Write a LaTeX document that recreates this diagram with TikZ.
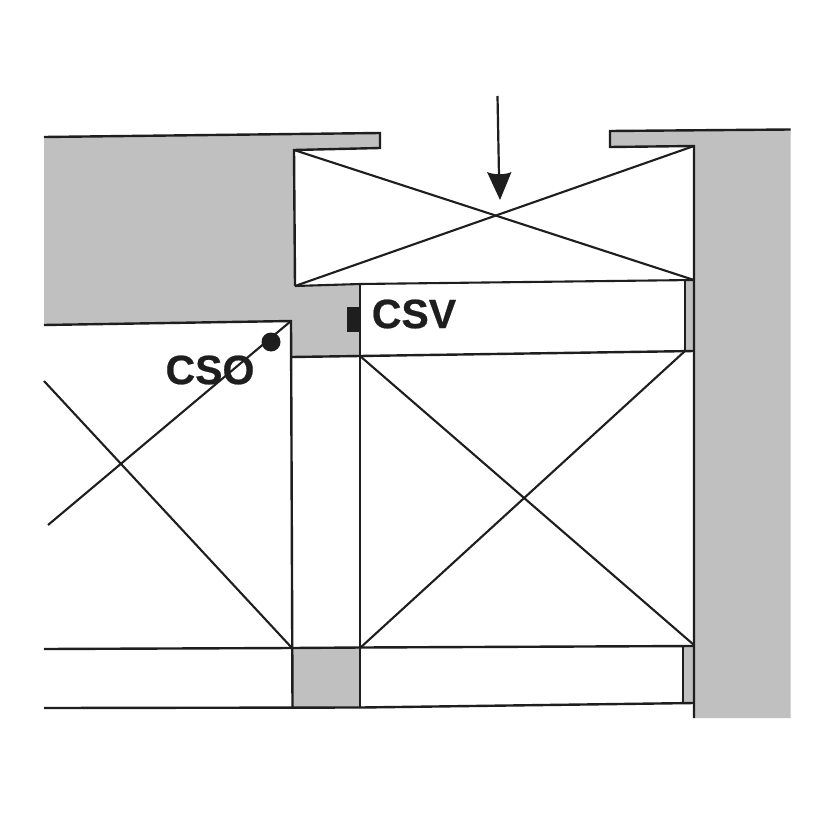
\documentclass[tikz,border=0pt]{standalone}
\usepackage{fontspec}
\setmainfont{Liberation Sans}
\newfontfamily\lblfont[BoldFeatures={FakeBold=0.5}]{Liberation Sans}
\definecolor{wallgray}{RGB}{192,192,192}
\definecolor{ink}{RGB}{30,30,30}
\tikzset{
  wall/.style={fill=wallgray,draw=none},
  ln/.style={draw=ink,line width=2.4pt,line join=miter},
  thin ln/.style={draw=ink,line width=2.1pt},
  lbl/.style={font=\lblfont\bfseries\fontsize{41}{41}\selectfont,text=ink,inner sep=0pt,anchor=center}
}
\begin{document}
\begin{tikzpicture}[x=1pt,y=-1pt]
\useasboundingbox (0,0) rectangle (826,826);
\fill[white] (0,0) rectangle (826,826);
% grey masses
\path[wall] (44,137) -- (380,133) -- (380,148) -- (294,150) -- (295,286) -- (360,284) -- (360,356) -- (291,357) -- (291,321) -- (44,325) -- cycle;
\path[wall] (610,131) -- (790.5,129) -- (790.5,718) -- (694,718) -- (694,146) -- (610,147) -- cycle;
\path[wall] (292,648) rectangle (361,707.5);
\path[wall] (685,280) rectangle (694,351);
\path[wall] (683,647) rectangle (694,703);
% labels
\node[lbl] (csv) at (414,314) {CSV};
\node[lbl] (cso) at (210,370) {CSO};
% upper walls
\draw[ln] (44,137) -- (380,133) -- (380,148) -- (294,150) -- (295,286);
\draw[ln] (790.5,129.5) -- (610,131) -- (610,147) -- (694,146) -- (694,718);
% upper box
\draw[thin ln] (295,286) -- (360,284) -- (694,280);
\draw[thin ln] (294,150) -- (694,280);
\draw[thin ln] (295,286) -- (694,146);
% row below
\draw[ln] (360,284) -- (360,707.5);
\draw[ln] (291.5,357) -- (360,356) -- (694,351);
\draw[thin ln] (685,280) -- (685,351);
% left box
\draw[ln] (44,325) -- (291,321) -- (292.5,707.5);
\draw[thin ln] (44,381) -- (292,648);
\draw[thin ln] (48,525) -- (291,321);
% centre box
\draw[thin ln] (360,356) -- (694,645);
\draw[thin ln] (360,648) -- (685,351);
% bottom rows
\draw[ln] (44,649) -- (292,648) -- (361,647.5) -- (694,646);
\draw[ln] (44,708) -- (361,707.5) -- (694,703);
\draw[thin ln] (683,646.5) -- (683,703);
% sensors
\fill[ink] (347,307) rectangle (360,332);
\fill[ink] (271,342) circle (9.5);
% arrow
\coordinate (arrowstart) at (497.5,96);
\coordinate (arrowend) at (499,176);
\draw[draw=ink,line width=2.2pt] (arrowstart) -- (arrowend);
\fill[ink] (487,172) .. controls (494,175) and (505,175) .. (511.5,172) -- (500,200) -- cycle;
\end{tikzpicture}
\end{document}
